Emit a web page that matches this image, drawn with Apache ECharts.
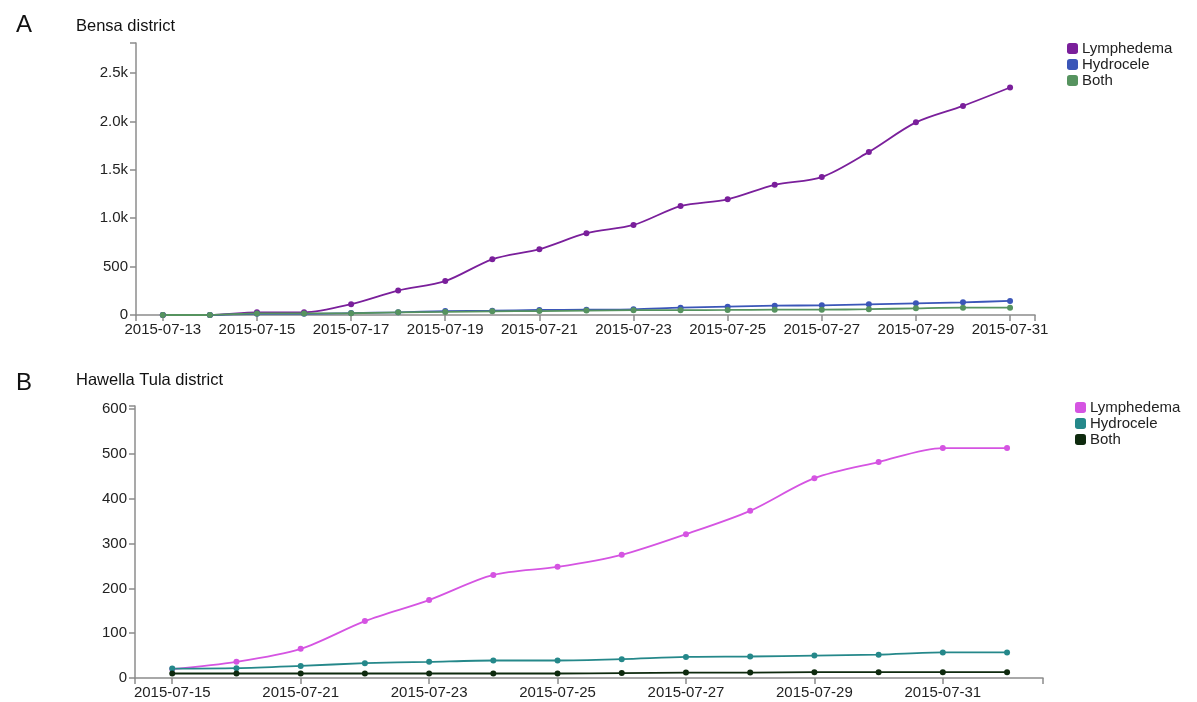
<!DOCTYPE html>
<html>
<head>
<meta charset="utf-8">
<title>Cumulative cases by district</title>
<script src="https://cdn.jsdelivr.net/npm/echarts@6/dist/echarts.min.js"></script>
<style>
  html, body { margin: 0; padding: 0; background: #fff; }
  #chart { width: 1197px; height: 702px; }
</style>
</head>
<body>
<div id="chart"></div>
<script>
// ---- Bensa district (panel A) ----
const datesA = ['2015-07-13','2015-07-14','2015-07-15','2015-07-16','2015-07-17','2015-07-18','2015-07-19',
  '2015-07-20','2015-07-21','2015-07-22','2015-07-23','2015-07-24','2015-07-25','2015-07-26',
  '2015-07-27','2015-07-28','2015-07-29','2015-07-30','2015-07-31'];
const lymphA = [0, 0, 28, 28, 112, 252, 350, 575, 680, 845, 930, 1125, 1195, 1345, 1425, 1685, 1990, 2160, 2350];
const hydroA = [0, 0, 12, 12, 20, 28, 41, 45, 52, 55, 59, 76, 86, 96, 100, 110, 121, 131, 145];
const bothA  = [0, 0, 16, 16, 18, 28, 32, 38, 41, 46, 50, 50, 52, 55, 55, 60, 69, 76, 76];
const yTicksA = [0, 500, 1000, 1500, 2000, 2500];

// ---- Hawella Tula district (panel B) ----
const datesB = ['2015-07-15','2015-07-20','2015-07-21','2015-07-22','2015-07-23','2015-07-24','2015-07-25',
  '2015-07-26','2015-07-27','2015-07-28','2015-07-29','2015-07-30','2015-07-31','2015-08-01'];
const lymphB = [20, 36, 65, 127, 174, 230, 248, 275, 321, 373, 446, 482, 513, 513];
const hydroB = [21, 22, 27, 33, 36, 39, 39, 42, 47, 48, 50, 52, 57, 57];
const bothB  = [10, 10, 10, 10, 10, 10, 10, 11, 12, 12, 13, 13, 13, 13];
const yTicksB = [0, 100, 200, 300, 400, 500, 600];

const seriesNames = ['Lymphedema', 'Hydrocele', 'Both'];
const colorsA = ['#7a1f9b', '#3b56b8', '#56935f'];
const colorsB = ['#d554e2', '#25888a', '#0e2a0e'];

const FONT = 'Liberation Sans, Arial, Helvetica, sans-serif';
const AXIS_COLOR = '#8c8c8c';

const xMinA = -0.57, xMaxA = datesA.length - 1 + 0.53;
const xMinB = -0.58, xMaxB = datesB.length - 1 + 0.56;
const yMaxA = 2810, yMaxB = 607;

const everyOther = n => Array.from({ length: Math.ceil(n / 2) }, (_, i) => i * 2);

function xAxis(gridIndex, dates, min, max) {
  const labelVals = everyOther(dates.length);
  return {
    type: 'value', gridIndex, min, max,
    splitLine: { show: false },
    axisLine: { onZero: false, lineStyle: { color: AXIS_COLOR, width: 1.5 } },
    axisTick: { show: true, length: 6, lineStyle: { color: AXIS_COLOR, width: 1.5 },
      customValues: [min].concat(labelVals, [max]) },
    axisLabel: { customValues: labelVals, margin: 7, color: '#222', fontFamily: FONT, fontSize: 15,
      formatter: v => dates[Math.round(v)] || '' }
  };
}

function yAxis(gridIndex, ticks, max, fmt) {
  return {
    type: 'value', gridIndex, min: 0, max,
    splitLine: { show: false },
    axisLine: { show: true, onZero: false, lineStyle: { color: AXIS_COLOR, width: 1.5 } },
    axisTick: { show: true, length: 6, lineStyle: { color: AXIS_COLOR, width: 1.5 },
      customValues: ticks.concat([max]) },
    axisLabel: { customValues: ticks, margin: 8, color: '#222', fontFamily: FONT, fontSize: 15, formatter: fmt }
  };
}

function lineSeries(prefix, name, values, color, axisIndex) {
  return {
    name: prefix + ':' + name,
    type: 'line',
    xAxisIndex: axisIndex, yAxisIndex: axisIndex,
    data: values.map((v, i) => [i, v]),
    smooth: 0.3,
    symbol: 'circle', symbolSize: 6,
    itemStyle: { color },
    lineStyle: { color, width: 1.8 },
    emphasis: { disabled: true },
    animation: false
  };
}

function legend(prefix, names, left, top) {
  return {
    data: names.map(n => ({ name: prefix + ':' + n, icon: 'roundRect' })),
    orient: 'vertical', left, top,
    itemWidth: 11, itemHeight: 11, itemGap: 1,
    formatter: n => n.split(':')[1],
    textStyle: { fontFamily: FONT, fontSize: 15, color: '#222', lineHeight: 15, padding: [0, 0, 0, -1] },
    selectedMode: false
  };
}

const fmtA = v => v >= 1000 ? (v / 1000).toFixed(1) + 'k' : String(v);
const fmtB = v => String(v);

const chart = echarts.init(document.getElementById('chart'), null, { renderer: 'canvas' });
chart.setOption({
  backgroundColor: '#fff',
  animation: false,
  title: [
    { text: 'A', left: 11, top: 8, textStyle: { fontFamily: FONT, fontSize: 24, fontWeight: 'normal', color: '#111' } },
    { text: 'Bensa district', left: 71, top: 13, textStyle: { fontFamily: FONT, fontSize: 16.5, fontWeight: 'normal', color: '#111' } },
    { text: 'B', left: 11, top: 366, textStyle: { fontFamily: FONT, fontSize: 24, fontWeight: 'normal', color: '#111' } },
    { text: 'Hawella Tula district', left: 71, top: 367, textStyle: { fontFamily: FONT, fontSize: 16.5, fontWeight: 'normal', color: '#111' } }
  ],
  legend: [
    legend('A', seriesNames, 1062, 36),
    legend('B', seriesNames, 1070, 395)
  ],
  grid: [
    { left: 136, right: 162, top: 43, height: 272 },
    { left: 135, right: 154, top: 406, height: 272 }
  ],
  xAxis: [xAxis(0, datesA, xMinA, xMaxA), xAxis(1, datesB, xMinB, xMaxB)],
  yAxis: [yAxis(0, yTicksA, yMaxA, fmtA), yAxis(1, yTicksB, yMaxB, fmtB)],
  series: [
    lineSeries('A', seriesNames[0], lymphA, colorsA[0], 0),
    lineSeries('A', seriesNames[1], hydroA, colorsA[1], 0),
    lineSeries('A', seriesNames[2], bothA, colorsA[2], 0),
    lineSeries('B', seriesNames[0], lymphB, colorsB[0], 1),
    lineSeries('B', seriesNames[1], hydroB, colorsB[1], 1),
    lineSeries('B', seriesNames[2], bothB, colorsB[2], 1)
  ]
});
</script>
</body>
</html>
